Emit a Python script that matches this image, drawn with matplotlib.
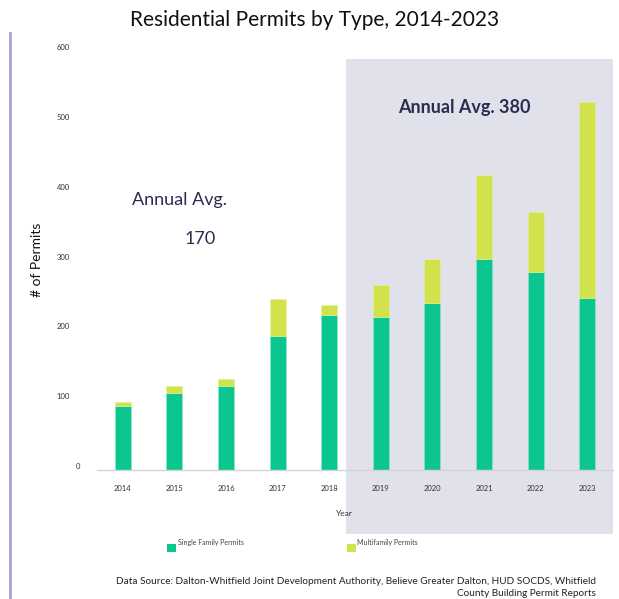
import matplotlib.pyplot as plt
from matplotlib.patches import Rectangle
from matplotlib.lines import Line2D
import matplotlib.transforms as mtransforms

plt.rcParams['font.family'] = ['Lato', 'DejaVu Sans']

# permits per year
years = ['2014', '2015', '2016', '2017', '2018', '2019', '2020', '2021', '2022', '2023']
single_family = [92, 110, 121, 192, 222, 219, 239, 302, 283, 247]
multifamily = [6, 10, 9, 53, 14, 46, 63, 120, 87, 280]

green = '#0BC68F'
lime = '#D2E24C'
navy = '#2B2D4F'

W, H = 619, 599
fig = plt.figure(figsize=(W / 100, H / 100), dpi=100)

def fx(px):
    return px / W

def fy(py):
    return 1 - py / H

# shaded panel for the recent five years
fig.patches.append(Rectangle((fx(346), fy(534)), fx(613) - fx(346), fy(59) - fy(534),
                             transform=fig.transFigure, facecolor='#E1E1EB',
                             edgecolor='none', zorder=0))
# purple rule down the left side
fig.add_artist(Line2D([fx(10), fx(10)], [fy(33), 0], transform=fig.transFigure,
                      color='#A7A3CF', linewidth=2))

ax = fig.add_axes([fx(97), fy(470), fx(613) - fx(97), fy(51) - fy(470)])
ax.patch.set_alpha(0)
ax.set_zorder(2)

x = list(range(len(years)))
ax.bar(x, single_family, width=0.31, color=green, edgecolor='#8FE6C8', linewidth=0.4, zorder=2)
ax.bar(x, multifamily, width=0.31, bottom=single_family, color=lime,
       edgecolor='#E8F09A', linewidth=0.4, zorder=2)

ax.set_xlim(-0.5, 9.5)
ax.set_ylim(0, 600)
for s in ['top', 'right', 'left']:
    ax.spines[s].set_visible(False)
ax.spines['bottom'].set_color('#D4D4D4')
ax.spines['bottom'].set_linewidth(1)

ax.set_xticks(x)
ax.set_xticklabels(years, fontsize=5.5, color='#333333')
ax.tick_params(axis='x', length=0, pad=11)
ax.set_yticks(range(0, 601, 100))
ax.tick_params(axis='y', length=0, labelsize=5.5, labelcolor='#333333', pad=29)
shift = mtransforms.ScaledTranslation(0, 4 / 100, fig.dpi_scale_trans)
zero_shift = mtransforms.ScaledTranslation(19 / 100, 0, fig.dpi_scale_trans)
for i, lab in enumerate(ax.get_yticklabels()):
    lab.set_horizontalalignment('left')
    t = lab.get_transform() + shift
    if i == 0:
        t = t + zero_shift
    lab.set_transform(t)

fig.text(fx(37), fy(260), '# of Permits', rotation=90, ha='center', va='center',
         fontsize=10, color='#111111')
fig.text(fx(344), fy(514), 'Year', ha='center', va='center', fontsize=6, color='#333333')

fig.text(fx(315), fy(20), 'Residential Permits by Type, 2014-2023', ha='center', va='center',
         fontsize=15, color='#111111')

fig.text(fx(180), fy(200), 'Annual Avg.', ha='center', va='center', fontsize=13, color=navy)
fig.text(fx(200), fy(239), '170', ha='center', va='center', fontsize=13, color=navy)
fig.text(fx(464), fy(108), 'Annual Avg. 380', ha='center', va='center', fontsize=13,
         color=navy, fontweight='bold')

# legend
fig.patches.append(Rectangle((fx(167), fy(552)), fx(9), 8 / H, transform=fig.transFigure,
                             facecolor=green, edgecolor='none'))
fig.text(fx(178), fy(543), 'Single Family Permits', ha='left', va='center', fontsize=5, color='#444444')
fig.patches.append(Rectangle((fx(347), fy(552)), fx(9), 8 / H, transform=fig.transFigure,
                             facecolor=lime, edgecolor='none'))
fig.text(fx(357), fy(543), 'Multifamily Permits', ha='left', va='center', fontsize=5, color='#444444')

fig.text(fx(596), fy(582), 'Data Source: Dalton-Whitfield Joint Development Authority, Believe Greater Dalton, HUD SOCDS, Whitfield',
         ha='right', va='center', fontsize=7.2, color='#222222')
fig.text(fx(596), fy(593), 'County Building Permit Reports', ha='right', va='center',
         fontsize=7.2, color='#222222')

fig.savefig('out.png', dpi=100)
